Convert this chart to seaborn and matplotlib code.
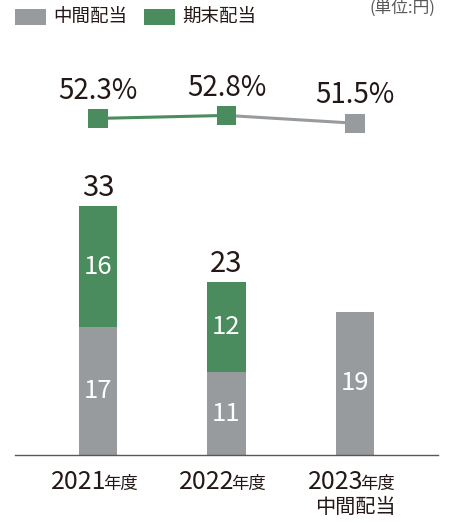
import matplotlib
matplotlib.use("Agg")
import matplotlib.pyplot as plt
from matplotlib.patches import Rectangle
import seaborn as sns

# ─── data ────────────────────────────────────────────────────────────────
years = ["2021", "2022", "2023"]
interim = [17, 11, 19]          # 中間配当
final = [16, 12, 0]             # 期末配当
payout = [52.3, 52.8, 51.5]     # 配当性向 (%)
sub_labels = ["", "", "中間配当"]

GRAY = "#979b9d"
GREEN = "#4a8c5e"
INK = "#231815"

sns.set_theme(style="white")
plt.rcParams["font.family"] = ["Noto Sans CJK JP", "DejaVu Sans"]

W, H = 450, 523
fig = plt.figure(figsize=(W / 100, H / 100), dpi=100)
ax = fig.add_axes([15 / W, (H - 455) / H, 423 / W, 415 / H])

# ─── stacked bars ────────────────────────────────────────────────────────
sns.barplot(x=years, y=interim, color=GRAY, width=0.296, linewidth=0,
            saturation=1, ax=ax)
sns.barplot(x=years, y=final, bottom=interim, color=GREEN, width=0.296,
            linewidth=0, saturation=1, ax=ax)
ax.set_xlim(-0.646, 2.646)
ax.set_ylim(0, 55.1)

for i, (a, b) in enumerate(zip(interim, final)):
    ax.text(i, a / 2, str(a), color="white", fontsize=18.5,
            ha="center", va="center")
    if b > 0:
        ax.text(i, a + b / 2, str(b), color="white", fontsize=18.5,
                ha="center", va="center")
        ax.annotate(str(a + b), (i, a + b), xytext=(0, 13),
                    textcoords="offset points", ha="center", va="center",
                    fontsize=21, color=INK)

# ─── payout ratio line ───────────────────────────────────────────────────
ax2 = ax.twinx()
ax2.set_ylim(-3.8, 65.37)
sns.lineplot(x=[0, 1], y=payout[:2], color=GREEN, linewidth=2.2, ax=ax2)
sns.lineplot(x=[1, 2], y=payout[1:], color=GRAY, linewidth=2.2, ax=ax2)
sns.scatterplot(x=[0, 1, 2], y=payout, hue=["a", "a", "b"],
                palette={"a": GREEN, "b": GRAY}, marker="s", s=188,
                linewidth=0, legend=False, zorder=5, ax=ax2)
for i, v in enumerate(payout):
    ax2.annotate(f"{v}%", (i, v), xytext=(0, 20), textcoords="offset points",
                 ha="center", va="center", fontsize=20, color=INK)

# ─── axes cosmetics ──────────────────────────────────────────────────────
for a in (ax, ax2):
    a.set_xticks([])
    a.set_yticks([])
    a.set_xlabel("")
    a.set_ylabel("")
    for s in a.spines.values():
        s.set_visible(False)
ax.spines["bottom"].set_visible(True)
ax.spines["bottom"].set_color("#595757")
ax.spines["bottom"].set_linewidth(1)

# x labels: large year + small 年度
for i, y in enumerate(years):
    ax.annotate(y, (i, 0), xytext=(6, -24.5), textcoords="offset points",
                ha="right", va="baseline", fontsize=18, color=INK,
                annotation_clip=False)
    ax.annotate("年度", (i, 0), xytext=(3.5, -24.5), textcoords="offset points",
                ha="left", va="baseline", fontsize=12.5, color=INK,
                annotation_clip=False)
    if sub_labels[i]:
        ax.annotate(sub_labels[i], (i, 0), xytext=(0, -42),
                    textcoords="offset points", ha="center", va="baseline",
                    fontsize=14.5, color=INK, annotation_clip=False)

# ─── legend ──────────────────────────────────────────────────────────────
for x0, col, lab in [(15, GRAY, "中間配当"), (144, GREEN, "期末配当")]:
    fig.patches.append(Rectangle((x0 / W, (H - 25) / H), 31 / W, 16 / H,
                                 transform=fig.transFigure, color=col,
                                 linewidth=0))
    fig.text((x0 + 38) / W, (H - 17) / H, lab, fontsize=13.3, color=INK,
             ha="left", va="center")
fig.text(435 / W, (H - 8) / H, "(単位:円)", fontsize=12, color="#595757",
         ha="right", va="center")

fig.savefig("out.png", dpi=100)
